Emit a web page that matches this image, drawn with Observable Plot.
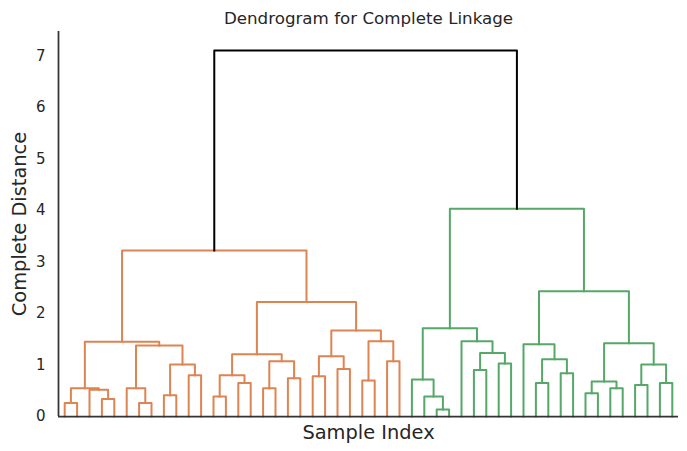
<!DOCTYPE html>
<html>
<head>
<meta charset="utf-8">
<script src="https://cdn.jsdelivr.net/npm/d3@7"></script>
<script src="https://cdn.jsdelivr.net/npm/@observablehq/plot@0.6"></script>
<style>
  html, body { margin: 0; padding: 0; background: #ffffff; }
</style>
</head>
<body>
<div id="chart"></div>
<script>
// ---- Data (leaves in display order 0..49; merge ids start at 50) ----
const leafCount = 50;
const mergeLeft  = [0,3,2,50,6,5,8,10,56,55,53,12,14,61,16,18,64,63,20,22,68,24,26,71,70,67,60,
                    30,29,28,33,35,80,32,79,38,40,85,37,42,44,89,46,48,92,91,88,84,76];
const mergeRight = [1,4,51,52,7,54,9,11,57,58,59,13,15,62,17,19,65,66,21,23,69,25,27,72,73,74,75,
                    31,77,78,34,36,81,82,83,39,41,86,87,43,45,90,47,49,93,94,95,96,97];
const mergeHeight = [0.26,0.34,0.52,0.55,0.26,0.55,0.41,0.80,1.01,1.38,1.45,0.39,0.65,0.80,0.55,0.74,1.07,1.21,0.78,0.92,1.17,0.70,1.07,1.46,1.67,2.22,3.22,
                     0.135,0.39,0.72,0.90,1.03,1.23,1.46,1.71,0.65,0.84,1.11,1.40,0.45,0.55,0.68,0.61,0.65,1.01,1.42,2.43,4.03,7.10];
const clusterPalette = ["#dd8452", "#55a868"];
const aboveThresholdColor = "#000000";
const yTicks = [0, 1, 2, 3, 4, 5, 6, 7];
const titleText = "Dendrogram for Complete Linkage";
const xLabel = "Sample Index";
const yLabel = "Complete Distance";

// ---- Build dendrogram geometry (scipy convention: leaf x = 10*i + 5) ----
const nodeX = [], nodeH = [];
for (let i = 0; i < leafCount; i++) { nodeX[i] = 10 * i + 5; nodeH[i] = 0; }
mergeLeft.forEach((a, k) => {
  const id = leafCount + k, b = mergeRight[k];
  nodeX[id] = (nodeX[a] + nodeX[b]) / 2;
  nodeH[id] = mergeHeight[k];
});
const rootId = leafCount + mergeLeft.length - 1;
const threshold = 0.7 * d3.max(mergeHeight);
const nodeColor = {};
let paletteIndex = 0;
function paint(id, color) {
  if (id < leafCount) return;
  const k = id - leafCount;
  if (color == null && nodeH[id] < threshold) color = clusterPalette[paletteIndex++ % clusterPalette.length];
  nodeColor[id] = color == null ? aboveThresholdColor : color;
  paint(mergeLeft[k], color);
  paint(mergeRight[k], color);
}
paint(rootId, null);

const segments = [];
mergeLeft.forEach((a, k) => {
  const id = leafCount + k, b = mergeRight[k];
  const c = nodeColor[id];
  segments.push({id, x: nodeX[a], y: nodeH[a], color: c});
  segments.push({id, x: nodeX[a], y: nodeH[id], color: c});
  segments.push({id, x: nodeX[b], y: nodeH[id], color: c});
  segments.push({id, x: nodeX[b], y: nodeH[b], color: c});
});

const axisColor = "#333333";
const chart = Plot.plot({
  width: 687,
  height: 451,
  marginLeft: 58,
  marginRight: 9,
  marginTop: 31,
  marginBottom: 35,
  style: {fontFamily: "'DejaVu Sans', sans-serif", fontSize: "15px", color: "#262626", background: "#ffffff"},
  x: {domain: [0, leafCount * 10], axis: null},
  y: {domain: [0, 7.47], ticks: yTicks, tickSize: 0, tickPadding: 13, label: null, tickFormat: d3.format("d")},
  color: {type: "identity"},
  marks: [
    Plot.line(segments, {x: "x", y: "y", z: "id", stroke: "color", strokeWidth: 2, strokeLinejoin: "round", strokeLinecap: "square"}),
    Plot.ruleX([0], {stroke: axisColor, strokeWidth: 1.75}),
    Plot.ruleY([0], {stroke: axisColor, strokeWidth: 1.75}),
    Plot.text([titleText], {text: d => d, frameAnchor: "top", lineAnchor: "middle", textAnchor: "middle", dy: -13, fontSize: 16.7, fill: "#262626"}),
    Plot.text([xLabel], {text: d => d, frameAnchor: "bottom", lineAnchor: "middle", textAnchor: "middle", dy: 16, fontSize: 19.4, fill: "#262626"}),
    Plot.text([yLabel], {text: d => d, frameAnchor: "left", lineAnchor: "middle", textAnchor: "middle", dx: -39, rotate: -90, fontSize: 19.4, fill: "#262626"})
  ]
});
document.getElementById("chart").appendChild(chart);
</script>
</body>
</html>
